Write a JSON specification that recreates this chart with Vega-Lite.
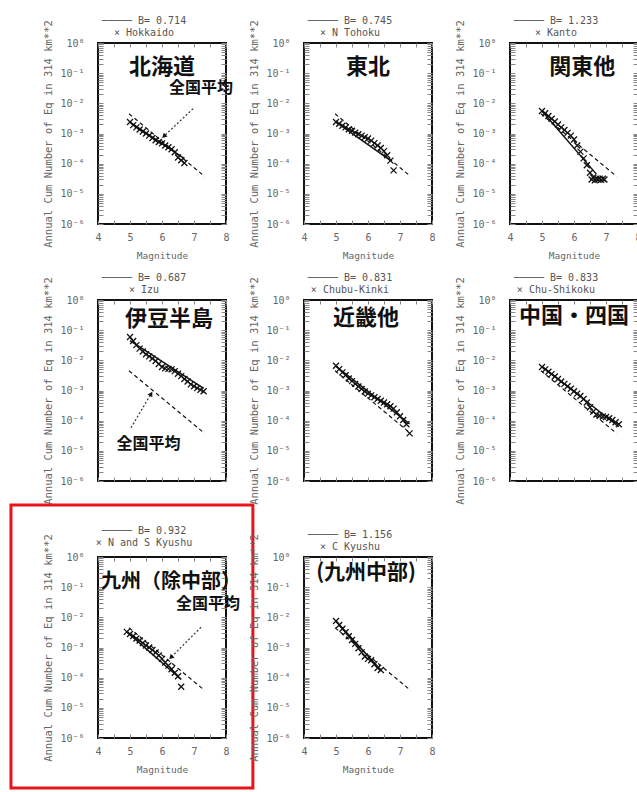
{
"$schema":"https://vega.github.io/schema/vega-lite/v6.json",
"padding":{"left":8,"top":14,"right":0,"bottom":0},
"columns":3,
"spacing":{"row":76,"column":78},
"bounds":"flush",
"datasets":{
"national":[{"m":4.97,"n":4.5e-3},{"m":7.33,"n":3.8e-5}],
"fit":[
{"r":"Hokkaido","m":5.0,"n":2.4e-3},{"r":"Hokkaido","m":6.7,"n":1.48e-4},
{"r":"Tohoku","m":5.0,"n":2.4e-3},{"r":"Tohoku","m":6.7,"n":1.29e-4},
{"r":"Kanto","m":5.0,"n":5.6e-3},{"r":"Kanto","m":6.7,"n":4.5e-5},
{"r":"Izu","m":5.0,"n":4.5e-2},{"r":"Izu","m":7.3,"n":1.17e-3},
{"r":"Kinki","m":5.0,"n":6.3e-3},{"r":"Kinki","m":7.3,"n":7.8e-5},
{"r":"Shikoku","m":5.0,"n":6.3e-3},{"r":"Shikoku","m":7.4,"n":6.3e-5},
{"r":"NSKyushu","m":4.9,"n":3.3e-3},{"r":"NSKyushu","m":6.6,"n":8.7e-5},
{"r":"CKyushu","m":5.0,"n":7.6e-3},{"r":"CKyushu","m":6.4,"n":1.8e-4}
],
"obs":[
{"r":"Hokkaido","m":5.0,"n":2.4e-3},{"r":"Hokkaido","m":5.1,"n":1.9e-3},{"r":"Hokkaido","m":5.2,"n":1.6e-3},{"r":"Hokkaido","m":5.3,"n":1.35e-3},{"r":"Hokkaido","m":5.4,"n":1.17e-3},{"r":"Hokkaido","m":5.5,"n":1.0e-3},{"r":"Hokkaido","m":5.6,"n":8.5e-4},{"r":"Hokkaido","m":5.7,"n":7.1e-4},{"r":"Hokkaido","m":5.8,"n":6.0e-4},{"r":"Hokkaido","m":5.9,"n":5.2e-4},{"r":"Hokkaido","m":6.0,"n":4.7e-4},{"r":"Hokkaido","m":6.1,"n":4.0e-4},{"r":"Hokkaido","m":6.2,"n":3.5e-4},{"r":"Hokkaido","m":6.3,"n":3.0e-4},{"r":"Hokkaido","m":6.4,"n":2.4e-4},{"r":"Hokkaido","m":6.5,"n":1.6e-4},{"r":"Hokkaido","m":6.6,"n":1.3e-4},{"r":"Hokkaido","m":6.7,"n":1.05e-4},
{"r":"Tohoku","m":5.0,"n":2.4e-3},{"r":"Tohoku","m":5.1,"n":2.1e-3},{"r":"Tohoku","m":5.2,"n":1.8e-3},{"r":"Tohoku","m":5.3,"n":1.6e-3},{"r":"Tohoku","m":5.4,"n":1.38e-3},{"r":"Tohoku","m":5.5,"n":1.23e-3},{"r":"Tohoku","m":5.6,"n":1.07e-3},{"r":"Tohoku","m":5.7,"n":9.5e-4},{"r":"Tohoku","m":5.8,"n":8.5e-4},{"r":"Tohoku","m":5.9,"n":7.6e-4},{"r":"Tohoku","m":6.0,"n":6.8e-4},{"r":"Tohoku","m":6.1,"n":5.8e-4},{"r":"Tohoku","m":6.2,"n":4.8e-4},{"r":"Tohoku","m":6.3,"n":4.0e-4},{"r":"Tohoku","m":6.4,"n":3.3e-4},{"r":"Tohoku","m":6.5,"n":2.6e-4},{"r":"Tohoku","m":6.6,"n":1.9e-4},{"r":"Tohoku","m":6.7,"n":1.26e-4},{"r":"Tohoku","m":6.8,"n":6.0e-5},
{"r":"Kanto","m":5.0,"n":5.6e-3},{"r":"Kanto","m":5.1,"n":4.7e-3},{"r":"Kanto","m":5.2,"n":3.8e-3},{"r":"Kanto","m":5.3,"n":3.1e-3},{"r":"Kanto","m":5.4,"n":2.5e-3},{"r":"Kanto","m":5.5,"n":2.0e-3},{"r":"Kanto","m":5.6,"n":1.6e-3},{"r":"Kanto","m":5.7,"n":1.3e-3},{"r":"Kanto","m":5.8,"n":1.05e-3},{"r":"Kanto","m":5.9,"n":8.5e-4},{"r":"Kanto","m":6.0,"n":6.3e-4},{"r":"Kanto","m":6.1,"n":4.0e-4},{"r":"Kanto","m":6.2,"n":2.5e-4},{"r":"Kanto","m":6.3,"n":1.5e-4},{"r":"Kanto","m":6.4,"n":8.9e-5},{"r":"Kanto","m":6.5,"n":5.0e-5},{"r":"Kanto","m":6.55,"n":3.0e-5},{"r":"Kanto","m":6.6,"n":3.5e-5},{"r":"Kanto","m":6.65,"n":2.8e-5},{"r":"Kanto","m":6.7,"n":3.2e-5},{"r":"Kanto","m":6.75,"n":3.0e-5},{"r":"Kanto","m":6.8,"n":3.2e-5},{"r":"Kanto","m":6.85,"n":2.9e-5},{"r":"Kanto","m":6.9,"n":3.2e-5},{"r":"Kanto","m":6.95,"n":3.0e-5},
{"r":"Izu","m":5.0,"n":5.9e-2},{"r":"Izu","m":5.1,"n":4.4e-2},{"r":"Izu","m":5.2,"n":3.2e-2},{"r":"Izu","m":5.3,"n":2.45e-2},{"r":"Izu","m":5.4,"n":1.95e-2},{"r":"Izu","m":5.5,"n":1.6e-2},{"r":"Izu","m":5.6,"n":1.35e-2},{"r":"Izu","m":5.7,"n":1.15e-2},{"r":"Izu","m":5.8,"n":9.5e-3},{"r":"Izu","m":5.9,"n":7.6e-3},{"r":"Izu","m":6.0,"n":6.0e-3},{"r":"Izu","m":6.1,"n":5.4e-3},{"r":"Izu","m":6.2,"n":5.2e-3},{"r":"Izu","m":6.3,"n":5.0e-3},{"r":"Izu","m":6.4,"n":4.4e-3},{"r":"Izu","m":6.5,"n":3.6e-3},{"r":"Izu","m":6.6,"n":3.0e-3},{"r":"Izu","m":6.7,"n":2.4e-3},{"r":"Izu","m":6.8,"n":2.0e-3},{"r":"Izu","m":6.9,"n":1.6e-3},{"r":"Izu","m":7.0,"n":1.38e-3},{"r":"Izu","m":7.1,"n":1.2e-3},{"r":"Izu","m":7.2,"n":1.05e-3},{"r":"Izu","m":7.3,"n":9.5e-4},
{"r":"Kinki","m":5.0,"n":6.6e-3},{"r":"Kinki","m":5.1,"n":5.1e-3},{"r":"Kinki","m":5.2,"n":4.0e-3},{"r":"Kinki","m":5.3,"n":3.2e-3},{"r":"Kinki","m":5.4,"n":2.5e-3},{"r":"Kinki","m":5.5,"n":2.05e-3},{"r":"Kinki","m":5.6,"n":1.66e-3},{"r":"Kinki","m":5.7,"n":1.35e-3},{"r":"Kinki","m":5.8,"n":1.12e-3},{"r":"Kinki","m":5.9,"n":9.3e-4},{"r":"Kinki","m":6.0,"n":7.9e-4},{"r":"Kinki","m":6.1,"n":6.9e-4},{"r":"Kinki","m":6.2,"n":6.0e-4},{"r":"Kinki","m":6.3,"n":5.2e-4},{"r":"Kinki","m":6.4,"n":4.6e-4},{"r":"Kinki","m":6.5,"n":4.0e-4},{"r":"Kinki","m":6.6,"n":3.5e-4},{"r":"Kinki","m":6.7,"n":3.0e-4},{"r":"Kinki","m":6.8,"n":2.5e-4},{"r":"Kinki","m":6.9,"n":1.9e-4},{"r":"Kinki","m":7.0,"n":1.4e-4},{"r":"Kinki","m":7.1,"n":1.05e-4},{"r":"Kinki","m":7.2,"n":7.6e-5},{"r":"Kinki","m":7.3,"n":3.8e-5},
{"r":"Shikoku","m":5.0,"n":6.0e-3},{"r":"Shikoku","m":5.1,"n":5.0e-3},{"r":"Shikoku","m":5.2,"n":4.2e-3},{"r":"Shikoku","m":5.3,"n":3.5e-3},{"r":"Shikoku","m":5.4,"n":2.9e-3},{"r":"Shikoku","m":5.5,"n":2.4e-3},{"r":"Shikoku","m":5.6,"n":2.0e-3},{"r":"Shikoku","m":5.7,"n":1.66e-3},{"r":"Shikoku","m":5.8,"n":1.38e-3},{"r":"Shikoku","m":5.9,"n":1.15e-3},{"r":"Shikoku","m":6.0,"n":9.5e-4},{"r":"Shikoku","m":6.1,"n":7.9e-4},{"r":"Shikoku","m":6.2,"n":6.6e-4},{"r":"Shikoku","m":6.3,"n":5.2e-4},{"r":"Shikoku","m":6.4,"n":4.0e-4},{"r":"Shikoku","m":6.5,"n":2.8e-4},{"r":"Shikoku","m":6.6,"n":2.0e-4},{"r":"Shikoku","m":6.7,"n":1.6e-4},{"r":"Shikoku","m":6.8,"n":1.45e-4},{"r":"Shikoku","m":6.9,"n":1.38e-4},{"r":"Shikoku","m":7.0,"n":1.32e-4},{"r":"Shikoku","m":7.1,"n":1.2e-4},{"r":"Shikoku","m":7.2,"n":1.05e-4},{"r":"Shikoku","m":7.3,"n":8.9e-5},{"r":"Shikoku","m":7.4,"n":7.6e-5},
{"r":"NSKyushu","m":4.9,"n":3.3e-3},{"r":"NSKyushu","m":5.0,"n":2.8e-3},{"r":"NSKyushu","m":5.1,"n":2.4e-3},{"r":"NSKyushu","m":5.2,"n":2.0e-3},{"r":"NSKyushu","m":5.3,"n":1.7e-3},{"r":"NSKyushu","m":5.4,"n":1.41e-3},{"r":"NSKyushu","m":5.5,"n":1.17e-3},{"r":"NSKyushu","m":5.6,"n":1.0e-3},{"r":"NSKyushu","m":5.7,"n":8.3e-4},{"r":"NSKyushu","m":5.8,"n":6.8e-4},{"r":"NSKyushu","m":5.9,"n":5.4e-4},{"r":"NSKyushu","m":6.0,"n":4.2e-4},{"r":"NSKyushu","m":6.1,"n":3.2e-4},{"r":"NSKyushu","m":6.2,"n":2.5e-4},{"r":"NSKyushu","m":6.3,"n":1.9e-4},{"r":"NSKyushu","m":6.4,"n":1.45e-4},{"r":"NSKyushu","m":6.5,"n":1.12e-4},{"r":"NSKyushu","m":6.6,"n":5.0e-5},
{"r":"CKyushu","m":5.0,"n":7.6e-3},{"r":"CKyushu","m":5.1,"n":5.6e-3},{"r":"CKyushu","m":5.2,"n":4.2e-3},{"r":"CKyushu","m":5.3,"n":3.2e-3},{"r":"CKyushu","m":5.4,"n":2.35e-3},{"r":"CKyushu","m":5.5,"n":1.78e-3},{"r":"CKyushu","m":5.6,"n":1.32e-3},{"r":"CKyushu","m":5.7,"n":9.5e-4},{"r":"CKyushu","m":5.8,"n":6.9e-4},{"r":"CKyushu","m":5.9,"n":5.0e-4},{"r":"CKyushu","m":6.0,"n":4.2e-4},{"r":"CKyushu","m":6.1,"n":3.8e-4},{"r":"CKyushu","m":6.2,"n":2.8e-4},{"r":"CKyushu","m":6.3,"n":2.1e-4},{"r":"CKyushu","m":6.4,"n":1.8e-4}
]
},
"concat":[
{"width":128,"height":181,"title":{"text":["───── B= 0.714","× Hokkaido"]},"resolve":{"axis":{"x":"independent","y":"independent"}},
"layer":[
{"data":{"name":"national"},"mark":{"type":"line","color":"#111","strokeWidth":1.2,"strokeDash":[4,3]},"encoding":{"x":{"field":"m","type":"quantitative","scale":{"domain":[4,8],"nice":false,"zero":false},"axis":{"orient":"bottom","values":[4,4.5,5,5.5,6,6.5,7,7.5,8],"labelExpr":"datum.value % 1 == 0 ? format(datum.value, 'd') : ''","tickSize":-4,"labelPadding":12,"domain":false,"labelOverlap":false,"labelFlush":false,"title":"Magnitude","titlePadding":8}},"y":{"field":"n","type":"quantitative","scale":{"type":"log","domain":[1e-6,1],"nice":false},"axis":{"orient":"left","values":[1,0.9,0.8,0.7,0.6,0.5,0.4,0.3,0.2,0.1,0.09,0.08,0.07,0.06,0.05,0.04,0.03,0.02,0.01,0.009,0.008,0.007,0.006,0.005,0.004,0.003,0.002,0.001,0.0009,0.0008,0.0007,0.0006,0.0005,0.0004,0.0003,0.0002,0.0001,0.00009,0.00008,0.00007,0.00006,0.00005,0.00004,0.00003,0.00002,0.00001,0.000009,0.000008,0.000007,0.000006,0.000005,0.000004,0.000003,0.000002,0.000001],"labelExpr":"abs(log(datum.value)/LN10 - round(log(datum.value)/LN10)) < 0.01 ? ['10⁰','10⁻¹','10⁻²','10⁻³','10⁻⁴','10⁻⁵','10⁻⁶'][-round(log(datum.value)/LN10)] : ''","tickSize":-5,"labelPadding":19,"domain":false,"labelOverlap":false,"labelFlush":false,"title":"Annual Cum Number of Eq in 314 km**2","titlePadding":6}}}},
{"data":{"name":"fit"},"transform":[{"filter":"datum.r == 'Hokkaido'"}],"mark":{"type":"line","color":"#111","strokeWidth":1.5},"encoding":{"x":{"field":"m","type":"quantitative","axis":{"orient":"top","values":[4,4.5,5,5.5,6,6.5,7,7.5,8],"labels":false,"tickSize":-4,"domain":false,"title":null}},"y":{"field":"n","type":"quantitative","axis":{"orient":"right","values":[1,0.9,0.8,0.7,0.6,0.5,0.4,0.3,0.2,0.1,0.09,0.08,0.07,0.06,0.05,0.04,0.03,0.02,0.01,0.009,0.008,0.007,0.006,0.005,0.004,0.003,0.002,0.001,0.0009,0.0008,0.0007,0.0006,0.0005,0.0004,0.0003,0.0002,0.0001,0.00009,0.00008,0.00007,0.00006,0.00005,0.00004,0.00003,0.00002,0.00001,0.000009,0.000008,0.000007,0.000006,0.000005,0.000004,0.000003,0.000002,0.000001],"labels":false,"tickSize":-5,"domain":false,"title":null}}}},
{"data":{"name":"obs"},"transform":[{"filter":"datum.r == 'Hokkaido'"}],"mark":{"type":"point","shape":"M-1,-1L1,1M1,-1L-1,1","filled":false,"color":"#111","strokeWidth":1.3,"size":36,"opacity":1},"encoding":{"x":{"field":"m","type":"quantitative","axis":null},"y":{"field":"n","type":"quantitative","axis":null}}},
{"data":{"values":[{}]},"mark":{"type":"text","text":"北海道","font":"Noto Sans CJK JP","fontSize":22,"fontWeight":"bold","color":"#111"},"encoding":{"x":{"datum":6.0,"type":"quantitative","axis":null},"y":{"datum":0.166,"type":"quantitative","axis":null}}},
{"data":{"values":[{}]},"mark":{"type":"text","text":"全国平均","font":"Noto Sans CJK JP","fontSize":16,"fontWeight":"bold","color":"#111"},"encoding":{"x":{"datum":7.22,"type":"quantitative","axis":null},"y":{"datum":0.0316,"type":"quantitative","axis":null}}},
{"data":{"values":[{}]},"mark":{"type":"rule","color":"#333","strokeWidth":1.2,"strokeDash":[2,2]},"encoding":{"x":{"datum":6.97,"type":"quantitative","axis":null},"y":{"datum":6.6e-3,"type":"quantitative","axis":null},"x2":{"datum":6.06},"y2":{"datum":8.1e-4}}},
{"data":{"values":[{}]},"mark":{"type":"point","shape":"triangle-up","filled":true,"color":"#111","size":30,"angle":226,"opacity":1},"encoding":{"x":{"datum":6.06,"type":"quantitative","axis":null},"y":{"datum":8.1e-4,"type":"quantitative","axis":null}}}
]},
{"width":128,"height":181,"title":{"text":["───── B= 0.745","× N Tohoku"]},"resolve":{"axis":{"x":"independent","y":"independent"}},
"layer":[
{"data":{"name":"national"},"mark":{"type":"line","color":"#111","strokeWidth":1.2,"strokeDash":[4,3]},"encoding":{"x":{"field":"m","type":"quantitative","scale":{"domain":[4,8],"nice":false,"zero":false},"axis":{"orient":"bottom","values":[4,4.5,5,5.5,6,6.5,7,7.5,8],"labelExpr":"datum.value % 1 == 0 ? format(datum.value, 'd') : ''","tickSize":-4,"labelPadding":12,"domain":false,"labelOverlap":false,"labelFlush":false,"title":"Magnitude","titlePadding":8}},"y":{"field":"n","type":"quantitative","scale":{"type":"log","domain":[1e-6,1],"nice":false},"axis":{"orient":"left","values":[1,0.9,0.8,0.7,0.6,0.5,0.4,0.3,0.2,0.1,0.09,0.08,0.07,0.06,0.05,0.04,0.03,0.02,0.01,0.009,0.008,0.007,0.006,0.005,0.004,0.003,0.002,0.001,0.0009,0.0008,0.0007,0.0006,0.0005,0.0004,0.0003,0.0002,0.0001,0.00009,0.00008,0.00007,0.00006,0.00005,0.00004,0.00003,0.00002,0.00001,0.000009,0.000008,0.000007,0.000006,0.000005,0.000004,0.000003,0.000002,0.000001],"labelExpr":"abs(log(datum.value)/LN10 - round(log(datum.value)/LN10)) < 0.01 ? ['10⁰','10⁻¹','10⁻²','10⁻³','10⁻⁴','10⁻⁵','10⁻⁶'][-round(log(datum.value)/LN10)] : ''","tickSize":-5,"labelPadding":19,"domain":false,"labelOverlap":false,"labelFlush":false,"title":"Annual Cum Number of Eq in 314 km**2","titlePadding":6}}}},
{"data":{"name":"fit"},"transform":[{"filter":"datum.r == 'Tohoku'"}],"mark":{"type":"line","color":"#111","strokeWidth":1.5},"encoding":{"x":{"field":"m","type":"quantitative","axis":{"orient":"top","values":[4,4.5,5,5.5,6,6.5,7,7.5,8],"labels":false,"tickSize":-4,"domain":false,"title":null}},"y":{"field":"n","type":"quantitative","axis":{"orient":"right","values":[1,0.9,0.8,0.7,0.6,0.5,0.4,0.3,0.2,0.1,0.09,0.08,0.07,0.06,0.05,0.04,0.03,0.02,0.01,0.009,0.008,0.007,0.006,0.005,0.004,0.003,0.002,0.001,0.0009,0.0008,0.0007,0.0006,0.0005,0.0004,0.0003,0.0002,0.0001,0.00009,0.00008,0.00007,0.00006,0.00005,0.00004,0.00003,0.00002,0.00001,0.000009,0.000008,0.000007,0.000006,0.000005,0.000004,0.000003,0.000002,0.000001],"labels":false,"tickSize":-5,"domain":false,"title":null}}}},
{"data":{"name":"obs"},"transform":[{"filter":"datum.r == 'Tohoku'"}],"mark":{"type":"point","shape":"M-1,-1L1,1M1,-1L-1,1","filled":false,"color":"#111","strokeWidth":1.3,"size":36,"opacity":1},"encoding":{"x":{"field":"m","type":"quantitative","axis":null},"y":{"field":"n","type":"quantitative","axis":null}}},
{"data":{"values":[{}]},"mark":{"type":"text","text":"東北","font":"Noto Sans CJK JP","fontSize":22,"fontWeight":"bold","color":"#111"},"encoding":{"x":{"datum":6.0,"type":"quantitative","axis":null},"y":{"datum":0.166,"type":"quantitative","axis":null}}}
]},
{"width":128,"height":181,"title":{"text":["───── B= 1.233","× Kanto"]},"resolve":{"axis":{"x":"independent","y":"independent"}},
"layer":[
{"data":{"name":"national"},"mark":{"type":"line","color":"#111","strokeWidth":1.2,"strokeDash":[4,3]},"encoding":{"x":{"field":"m","type":"quantitative","scale":{"domain":[4,8],"nice":false,"zero":false},"axis":{"orient":"bottom","values":[4,4.5,5,5.5,6,6.5,7,7.5,8],"labelExpr":"datum.value % 1 == 0 ? format(datum.value, 'd') : ''","tickSize":-4,"labelPadding":12,"domain":false,"labelOverlap":false,"labelFlush":false,"title":"Magnitude","titlePadding":8}},"y":{"field":"n","type":"quantitative","scale":{"type":"log","domain":[1e-6,1],"nice":false},"axis":{"orient":"left","values":[1,0.9,0.8,0.7,0.6,0.5,0.4,0.3,0.2,0.1,0.09,0.08,0.07,0.06,0.05,0.04,0.03,0.02,0.01,0.009,0.008,0.007,0.006,0.005,0.004,0.003,0.002,0.001,0.0009,0.0008,0.0007,0.0006,0.0005,0.0004,0.0003,0.0002,0.0001,0.00009,0.00008,0.00007,0.00006,0.00005,0.00004,0.00003,0.00002,0.00001,0.000009,0.000008,0.000007,0.000006,0.000005,0.000004,0.000003,0.000002,0.000001],"labelExpr":"abs(log(datum.value)/LN10 - round(log(datum.value)/LN10)) < 0.01 ? ['10⁰','10⁻¹','10⁻²','10⁻³','10⁻⁴','10⁻⁵','10⁻⁶'][-round(log(datum.value)/LN10)] : ''","tickSize":-5,"labelPadding":19,"domain":false,"labelOverlap":false,"labelFlush":false,"title":"Annual Cum Number of Eq in 314 km**2","titlePadding":6}}}},
{"data":{"name":"fit"},"transform":[{"filter":"datum.r == 'Kanto'"}],"mark":{"type":"line","color":"#111","strokeWidth":1.5},"encoding":{"x":{"field":"m","type":"quantitative","axis":{"orient":"top","values":[4,4.5,5,5.5,6,6.5,7,7.5,8],"labels":false,"tickSize":-4,"domain":false,"title":null}},"y":{"field":"n","type":"quantitative","axis":{"orient":"right","values":[1,0.9,0.8,0.7,0.6,0.5,0.4,0.3,0.2,0.1,0.09,0.08,0.07,0.06,0.05,0.04,0.03,0.02,0.01,0.009,0.008,0.007,0.006,0.005,0.004,0.003,0.002,0.001,0.0009,0.0008,0.0007,0.0006,0.0005,0.0004,0.0003,0.0002,0.0001,0.00009,0.00008,0.00007,0.00006,0.00005,0.00004,0.00003,0.00002,0.00001,0.000009,0.000008,0.000007,0.000006,0.000005,0.000004,0.000003,0.000002,0.000001],"labels":false,"tickSize":-5,"domain":false,"title":null}}}},
{"data":{"name":"obs"},"transform":[{"filter":"datum.r == 'Kanto'"}],"mark":{"type":"point","shape":"M-1,-1L1,1M1,-1L-1,1","filled":false,"color":"#111","strokeWidth":1.3,"size":36,"opacity":1},"encoding":{"x":{"field":"m","type":"quantitative","axis":null},"y":{"field":"n","type":"quantitative","axis":null}}},
{"data":{"values":[{}]},"mark":{"type":"text","text":"関東他","font":"Noto Sans CJK JP","fontSize":22,"fontWeight":"bold","color":"#111"},"encoding":{"x":{"datum":6.26,"type":"quantitative","axis":null},"y":{"datum":0.155,"type":"quantitative","axis":null}}}
]},
{"width":128,"height":181,"title":{"text":["───── B= 0.687","× Izu"]},"resolve":{"axis":{"x":"independent","y":"independent"}},
"layer":[
{"data":{"name":"national"},"mark":{"type":"line","color":"#111","strokeWidth":1.2,"strokeDash":[4,3]},"encoding":{"x":{"field":"m","type":"quantitative","scale":{"domain":[4,8],"nice":false,"zero":false},"axis":{"orient":"bottom","values":[4,4.5,5,5.5,6,6.5,7,7.5,8],"labels":false,"tickSize":-4,"domain":false,"title":null}},"y":{"field":"n","type":"quantitative","scale":{"type":"log","domain":[1e-6,1],"nice":false},"axis":{"orient":"left","values":[1,0.9,0.8,0.7,0.6,0.5,0.4,0.3,0.2,0.1,0.09,0.08,0.07,0.06,0.05,0.04,0.03,0.02,0.01,0.009,0.008,0.007,0.006,0.005,0.004,0.003,0.002,0.001,0.0009,0.0008,0.0007,0.0006,0.0005,0.0004,0.0003,0.0002,0.0001,0.00009,0.00008,0.00007,0.00006,0.00005,0.00004,0.00003,0.00002,0.00001,0.000009,0.000008,0.000007,0.000006,0.000005,0.000004,0.000003,0.000002,0.000001],"labelExpr":"abs(log(datum.value)/LN10 - round(log(datum.value)/LN10)) < 0.01 ? ['10⁰','10⁻¹','10⁻²','10⁻³','10⁻⁴','10⁻⁵','10⁻⁶'][-round(log(datum.value)/LN10)] : ''","tickSize":-5,"labelPadding":19,"domain":false,"labelOverlap":false,"labelFlush":false,"title":"Annual Cum Number of Eq in 314 km**2","titlePadding":6}}}},
{"data":{"name":"fit"},"transform":[{"filter":"datum.r == 'Izu'"}],"mark":{"type":"line","color":"#111","strokeWidth":1.5},"encoding":{"x":{"field":"m","type":"quantitative","axis":{"orient":"top","values":[4,4.5,5,5.5,6,6.5,7,7.5,8],"labels":false,"tickSize":-4,"domain":false,"title":null}},"y":{"field":"n","type":"quantitative","axis":{"orient":"right","values":[1,0.9,0.8,0.7,0.6,0.5,0.4,0.3,0.2,0.1,0.09,0.08,0.07,0.06,0.05,0.04,0.03,0.02,0.01,0.009,0.008,0.007,0.006,0.005,0.004,0.003,0.002,0.001,0.0009,0.0008,0.0007,0.0006,0.0005,0.0004,0.0003,0.0002,0.0001,0.00009,0.00008,0.00007,0.00006,0.00005,0.00004,0.00003,0.00002,0.00001,0.000009,0.000008,0.000007,0.000006,0.000005,0.000004,0.000003,0.000002,0.000001],"labels":false,"tickSize":-5,"domain":false,"title":null}}}},
{"data":{"name":"obs"},"transform":[{"filter":"datum.r == 'Izu'"}],"mark":{"type":"point","shape":"M-1,-1L1,1M1,-1L-1,1","filled":false,"color":"#111","strokeWidth":1.3,"size":36,"opacity":1},"encoding":{"x":{"field":"m","type":"quantitative","axis":null},"y":{"field":"n","type":"quantitative","axis":null}}},
{"data":{"values":[{}]},"mark":{"type":"text","text":"伊豆半島","font":"Noto Sans CJK JP","fontSize":22,"fontWeight":"bold","color":"#111"},"encoding":{"x":{"datum":6.22,"type":"quantitative","axis":null},"y":{"datum":0.234,"type":"quantitative","axis":null}}},
{"data":{"values":[{}]},"mark":{"type":"text","text":"全国平均","font":"Noto Sans CJK JP","fontSize":16,"fontWeight":"bold","color":"#111"},"encoding":{"x":{"datum":5.58,"type":"quantitative","axis":null},"y":{"datum":1.7e-5,"type":"quantitative","axis":null}}},
{"data":{"values":[{}]},"mark":{"type":"rule","color":"#333","strokeWidth":1.2,"strokeDash":[2,2]},"encoding":{"x":{"datum":5.03,"type":"quantitative","axis":null},"y":{"datum":5.8e-5,"type":"quantitative","axis":null},"x2":{"datum":5.66},"y2":{"datum":7.8e-4}}},
{"data":{"values":[{}]},"mark":{"type":"point","shape":"triangle-up","filled":true,"color":"#111","size":30,"angle":30,"opacity":1},"encoding":{"x":{"datum":5.66,"type":"quantitative","axis":null},"y":{"datum":7.8e-4,"type":"quantitative","axis":null}}}
]},
{"width":128,"height":181,"title":{"text":["───── B= 0.831","× Chubu-Kinki"]},"resolve":{"axis":{"x":"independent","y":"independent"}},
"layer":[
{"data":{"name":"national"},"mark":{"type":"line","color":"#111","strokeWidth":1.2,"strokeDash":[4,3]},"encoding":{"x":{"field":"m","type":"quantitative","scale":{"domain":[4,8],"nice":false,"zero":false},"axis":{"orient":"bottom","values":[4,4.5,5,5.5,6,6.5,7,7.5,8],"labels":false,"tickSize":-4,"domain":false,"title":null}},"y":{"field":"n","type":"quantitative","scale":{"type":"log","domain":[1e-6,1],"nice":false},"axis":{"orient":"left","values":[1,0.9,0.8,0.7,0.6,0.5,0.4,0.3,0.2,0.1,0.09,0.08,0.07,0.06,0.05,0.04,0.03,0.02,0.01,0.009,0.008,0.007,0.006,0.005,0.004,0.003,0.002,0.001,0.0009,0.0008,0.0007,0.0006,0.0005,0.0004,0.0003,0.0002,0.0001,0.00009,0.00008,0.00007,0.00006,0.00005,0.00004,0.00003,0.00002,0.00001,0.000009,0.000008,0.000007,0.000006,0.000005,0.000004,0.000003,0.000002,0.000001],"labelExpr":"abs(log(datum.value)/LN10 - round(log(datum.value)/LN10)) < 0.01 ? ['10⁰','10⁻¹','10⁻²','10⁻³','10⁻⁴','10⁻⁵','10⁻⁶'][-round(log(datum.value)/LN10)] : ''","tickSize":-5,"labelPadding":19,"domain":false,"labelOverlap":false,"labelFlush":false,"title":"Annual Cum Number of Eq in 314 km**2","titlePadding":6}}}},
{"data":{"name":"fit"},"transform":[{"filter":"datum.r == 'Kinki'"}],"mark":{"type":"line","color":"#111","strokeWidth":1.5},"encoding":{"x":{"field":"m","type":"quantitative","axis":{"orient":"top","values":[4,4.5,5,5.5,6,6.5,7,7.5,8],"labels":false,"tickSize":-4,"domain":false,"title":null}},"y":{"field":"n","type":"quantitative","axis":{"orient":"right","values":[1,0.9,0.8,0.7,0.6,0.5,0.4,0.3,0.2,0.1,0.09,0.08,0.07,0.06,0.05,0.04,0.03,0.02,0.01,0.009,0.008,0.007,0.006,0.005,0.004,0.003,0.002,0.001,0.0009,0.0008,0.0007,0.0006,0.0005,0.0004,0.0003,0.0002,0.0001,0.00009,0.00008,0.00007,0.00006,0.00005,0.00004,0.00003,0.00002,0.00001,0.000009,0.000008,0.000007,0.000006,0.000005,0.000004,0.000003,0.000002,0.000001],"labels":false,"tickSize":-5,"domain":false,"title":null}}}},
{"data":{"name":"obs"},"transform":[{"filter":"datum.r == 'Kinki'"}],"mark":{"type":"point","shape":"M-1,-1L1,1M1,-1L-1,1","filled":false,"color":"#111","strokeWidth":1.3,"size":36,"opacity":1},"encoding":{"x":{"field":"m","type":"quantitative","axis":null},"y":{"field":"n","type":"quantitative","axis":null}}},
{"data":{"values":[{}]},"mark":{"type":"text","text":"近畿他","font":"Noto Sans CJK JP","fontSize":22,"fontWeight":"bold","color":"#111"},"encoding":{"x":{"datum":5.94,"type":"quantitative","axis":null},"y":{"datum":0.25,"type":"quantitative","axis":null}}}
]},
{"width":128,"height":181,"title":{"text":["───── B= 0.833","× Chu-Shikoku"]},"resolve":{"axis":{"x":"independent","y":"independent"}},
"layer":[
{"data":{"name":"national"},"mark":{"type":"line","color":"#111","strokeWidth":1.2,"strokeDash":[4,3]},"encoding":{"x":{"field":"m","type":"quantitative","scale":{"domain":[4,8],"nice":false,"zero":false},"axis":{"orient":"bottom","values":[4,4.5,5,5.5,6,6.5,7,7.5,8],"labels":false,"tickSize":-4,"domain":false,"title":null}},"y":{"field":"n","type":"quantitative","scale":{"type":"log","domain":[1e-6,1],"nice":false},"axis":{"orient":"left","values":[1,0.9,0.8,0.7,0.6,0.5,0.4,0.3,0.2,0.1,0.09,0.08,0.07,0.06,0.05,0.04,0.03,0.02,0.01,0.009,0.008,0.007,0.006,0.005,0.004,0.003,0.002,0.001,0.0009,0.0008,0.0007,0.0006,0.0005,0.0004,0.0003,0.0002,0.0001,0.00009,0.00008,0.00007,0.00006,0.00005,0.00004,0.00003,0.00002,0.00001,0.000009,0.000008,0.000007,0.000006,0.000005,0.000004,0.000003,0.000002,0.000001],"labelExpr":"abs(log(datum.value)/LN10 - round(log(datum.value)/LN10)) < 0.01 ? ['10⁰','10⁻¹','10⁻²','10⁻³','10⁻⁴','10⁻⁵','10⁻⁶'][-round(log(datum.value)/LN10)] : ''","tickSize":-5,"labelPadding":19,"domain":false,"labelOverlap":false,"labelFlush":false,"title":"Annual Cum Number of Eq in 314 km**2","titlePadding":6}}}},
{"data":{"name":"fit"},"transform":[{"filter":"datum.r == 'Shikoku'"}],"mark":{"type":"line","color":"#111","strokeWidth":1.5},"encoding":{"x":{"field":"m","type":"quantitative","axis":{"orient":"top","values":[4,4.5,5,5.5,6,6.5,7,7.5,8],"labels":false,"tickSize":-4,"domain":false,"title":null}},"y":{"field":"n","type":"quantitative","axis":{"orient":"right","values":[1,0.9,0.8,0.7,0.6,0.5,0.4,0.3,0.2,0.1,0.09,0.08,0.07,0.06,0.05,0.04,0.03,0.02,0.01,0.009,0.008,0.007,0.006,0.005,0.004,0.003,0.002,0.001,0.0009,0.0008,0.0007,0.0006,0.0005,0.0004,0.0003,0.0002,0.0001,0.00009,0.00008,0.00007,0.00006,0.00005,0.00004,0.00003,0.00002,0.00001,0.000009,0.000008,0.000007,0.000006,0.000005,0.000004,0.000003,0.000002,0.000001],"labels":false,"tickSize":-5,"domain":false,"title":null}}}},
{"data":{"name":"obs"},"transform":[{"filter":"datum.r == 'Shikoku'"}],"mark":{"type":"point","shape":"M-1,-1L1,1M1,-1L-1,1","filled":false,"color":"#111","strokeWidth":1.3,"size":36,"opacity":1},"encoding":{"x":{"field":"m","type":"quantitative","axis":null},"y":{"field":"n","type":"quantitative","axis":null}}},
{"data":{"values":[{}]},"mark":{"type":"text","text":"中国・四国","font":"Noto Sans CJK JP","fontSize":22,"fontWeight":"bold","color":"#111"},"encoding":{"x":{"datum":6.0,"type":"quantitative","axis":null},"y":{"datum":0.295,"type":"quantitative","axis":null}}}
]},
{"width":128,"height":181,"title":{"text":["───── B= 0.932","× N and S Kyushu"],"offset":-45},"resolve":{"axis":{"x":"independent","y":"independent"}},
"layer":[
{"data":{"name":"national"},"mark":{"type":"line","color":"#111","strokeWidth":1.2,"strokeDash":[4,3]},"encoding":{"x":{"field":"m","type":"quantitative","scale":{"domain":[4,8],"nice":false,"zero":false},"axis":{"orient":"bottom","values":[4,4.5,5,5.5,6,6.5,7,7.5,8],"labelExpr":"datum.value % 1 == 0 ? format(datum.value, 'd') : ''","tickSize":-4,"labelPadding":12,"domain":false,"labelOverlap":false,"labelFlush":false,"title":"Magnitude","titlePadding":8}},"y":{"field":"n","type":"quantitative","scale":{"type":"log","domain":[1e-6,1],"nice":false},"axis":{"orient":"left","values":[1,0.9,0.8,0.7,0.6,0.5,0.4,0.3,0.2,0.1,0.09,0.08,0.07,0.06,0.05,0.04,0.03,0.02,0.01,0.009,0.008,0.007,0.006,0.005,0.004,0.003,0.002,0.001,0.0009,0.0008,0.0007,0.0006,0.0005,0.0004,0.0003,0.0002,0.0001,0.00009,0.00008,0.00007,0.00006,0.00005,0.00004,0.00003,0.00002,0.00001,0.000009,0.000008,0.000007,0.000006,0.000005,0.000004,0.000003,0.000002,0.000001],"labelExpr":"abs(log(datum.value)/LN10 - round(log(datum.value)/LN10)) < 0.01 ? ['10⁰','10⁻¹','10⁻²','10⁻³','10⁻⁴','10⁻⁵','10⁻⁶'][-round(log(datum.value)/LN10)] : ''","tickSize":-5,"labelPadding":19,"domain":false,"labelOverlap":false,"labelFlush":false,"title":"Annual Cum Number of Eq in 314 km**2","titlePadding":6}}}},
{"data":{"name":"fit"},"transform":[{"filter":"datum.r == 'NSKyushu'"}],"mark":{"type":"line","color":"#111","strokeWidth":1.5},"encoding":{"x":{"field":"m","type":"quantitative","axis":{"orient":"top","values":[4,4.5,5,5.5,6,6.5,7,7.5,8],"labels":false,"tickSize":-4,"domain":false,"title":null}},"y":{"field":"n","type":"quantitative","axis":{"orient":"right","values":[1,0.9,0.8,0.7,0.6,0.5,0.4,0.3,0.2,0.1,0.09,0.08,0.07,0.06,0.05,0.04,0.03,0.02,0.01,0.009,0.008,0.007,0.006,0.005,0.004,0.003,0.002,0.001,0.0009,0.0008,0.0007,0.0006,0.0005,0.0004,0.0003,0.0002,0.0001,0.00009,0.00008,0.00007,0.00006,0.00005,0.00004,0.00003,0.00002,0.00001,0.000009,0.000008,0.000007,0.000006,0.000005,0.000004,0.000003,0.000002,0.000001],"labels":false,"tickSize":-5,"domain":false,"title":null}}}},
{"data":{"name":"obs"},"transform":[{"filter":"datum.r == 'NSKyushu'"}],"mark":{"type":"point","shape":"M-1,-1L1,1M1,-1L-1,1","filled":false,"color":"#111","strokeWidth":1.3,"size":36,"opacity":1},"encoding":{"x":{"field":"m","type":"quantitative","axis":null},"y":{"field":"n","type":"quantitative","axis":null}}},
{"data":{"values":[{}]},"mark":{"type":"text","text":"九州（除中部）","font":"Noto Sans CJK JP","fontSize":20,"fontWeight":"bold","color":"#111"},"encoding":{"x":{"datum":6.28,"type":"quantitative","axis":null},"y":{"datum":0.145,"type":"quantitative","axis":null}}},
{"data":{"values":[{}]},"mark":{"type":"text","text":"全国平均","font":"Noto Sans CJK JP","fontSize":16,"fontWeight":"bold","color":"#111"},"encoding":{"x":{"datum":7.44,"type":"quantitative","axis":null},"y":{"datum":0.027,"type":"quantitative","axis":null}}},
{"data":{"values":[{}]},"mark":{"type":"rule","color":"#333","strokeWidth":1.2,"strokeDash":[2,2]},"encoding":{"x":{"datum":7.22,"type":"quantitative","axis":null},"y":{"datum":4.7e-3,"type":"quantitative","axis":null},"x2":{"datum":6.28},"y2":{"datum":4.7e-4}}},
{"data":{"values":[{}]},"mark":{"type":"point","shape":"triangle-up","filled":true,"color":"#111","size":30,"angle":225,"opacity":1},"encoding":{"x":{"datum":6.28,"type":"quantitative","axis":null},"y":{"datum":4.7e-4,"type":"quantitative","axis":null}}},
{"data":{"values":[{}]},"mark":{"type":"rect","fill":"transparent","stroke":"#e8141b","strokeWidth":3,"clip":false},"encoding":{"x":{"datum":1.28,"type":"quantitative","axis":null},"x2":{"datum":8.84},"y":{"datum":53,"type":"quantitative","axis":null},"y2":{"datum":2.2e-8}}}
]},
{"width":128,"height":181,"title":{"text":["───── B= 1.156","× C Kyushu"]},"resolve":{"axis":{"x":"independent","y":"independent"}},
"layer":[
{"data":{"name":"national"},"mark":{"type":"line","color":"#111","strokeWidth":1.2,"strokeDash":[4,3]},"encoding":{"x":{"field":"m","type":"quantitative","scale":{"domain":[4,8],"nice":false,"zero":false},"axis":{"orient":"bottom","values":[4,4.5,5,5.5,6,6.5,7,7.5,8],"labelExpr":"datum.value % 1 == 0 ? format(datum.value, 'd') : ''","tickSize":-4,"labelPadding":12,"domain":false,"labelOverlap":false,"labelFlush":false,"title":"Magnitude","titlePadding":8}},"y":{"field":"n","type":"quantitative","scale":{"type":"log","domain":[1e-6,1],"nice":false},"axis":{"orient":"left","values":[1,0.9,0.8,0.7,0.6,0.5,0.4,0.3,0.2,0.1,0.09,0.08,0.07,0.06,0.05,0.04,0.03,0.02,0.01,0.009,0.008,0.007,0.006,0.005,0.004,0.003,0.002,0.001,0.0009,0.0008,0.0007,0.0006,0.0005,0.0004,0.0003,0.0002,0.0001,0.00009,0.00008,0.00007,0.00006,0.00005,0.00004,0.00003,0.00002,0.00001,0.000009,0.000008,0.000007,0.000006,0.000005,0.000004,0.000003,0.000002,0.000001],"labelExpr":"abs(log(datum.value)/LN10 - round(log(datum.value)/LN10)) < 0.01 ? ['10⁰','10⁻¹','10⁻²','10⁻³','10⁻⁴','10⁻⁵','10⁻⁶'][-round(log(datum.value)/LN10)] : ''","tickSize":-5,"labelPadding":19,"domain":false,"labelOverlap":false,"labelFlush":false,"title":"Annual Cum Number of Eq in 314 km**2","titlePadding":6}}}},
{"data":{"name":"fit"},"transform":[{"filter":"datum.r == 'CKyushu'"}],"mark":{"type":"line","color":"#111","strokeWidth":1.5},"encoding":{"x":{"field":"m","type":"quantitative","axis":{"orient":"top","values":[4,4.5,5,5.5,6,6.5,7,7.5,8],"labels":false,"tickSize":-4,"domain":false,"title":null}},"y":{"field":"n","type":"quantitative","axis":{"orient":"right","values":[1,0.9,0.8,0.7,0.6,0.5,0.4,0.3,0.2,0.1,0.09,0.08,0.07,0.06,0.05,0.04,0.03,0.02,0.01,0.009,0.008,0.007,0.006,0.005,0.004,0.003,0.002,0.001,0.0009,0.0008,0.0007,0.0006,0.0005,0.0004,0.0003,0.0002,0.0001,0.00009,0.00008,0.00007,0.00006,0.00005,0.00004,0.00003,0.00002,0.00001,0.000009,0.000008,0.000007,0.000006,0.000005,0.000004,0.000003,0.000002,0.000001],"labels":false,"tickSize":-5,"domain":false,"title":null}}}},
{"data":{"name":"obs"},"transform":[{"filter":"datum.r == 'CKyushu'"}],"mark":{"type":"point","shape":"M-1,-1L1,1M1,-1L-1,1","filled":false,"color":"#111","strokeWidth":1.3,"size":36,"opacity":1},"encoding":{"x":{"field":"m","type":"quantitative","axis":null},"y":{"field":"n","type":"quantitative","axis":null}}},
{"data":{"values":[{}]},"mark":{"type":"text","text":"(九州中部)","font":"Noto Sans CJK JP","fontSize":21,"fontWeight":"bold","color":"#111"},"encoding":{"x":{"datum":5.94,"type":"quantitative","axis":null},"y":{"datum":0.295,"type":"quantitative","axis":null}}}
]}
],
"config":{
"view":{"stroke":"#111","strokeWidth":2},
"axis":{"labelFont":"DejaVu Sans Mono","titleFont":"DejaVu Sans Mono","labelFontSize":10,"labelColor":"#666","titleColor":"#666","titleFontWeight":"normal","tickColor":"#888","grid":false},
"axisX":{"titleFontSize":9.5},
"axisY":{"titleFontSize":10.5},
"title":{"font":"DejaVu Sans Mono","fontSize":10,"fontWeight":"normal","color":"#555","anchor":"middle","offset":-18,"dx":-18}
}
}
